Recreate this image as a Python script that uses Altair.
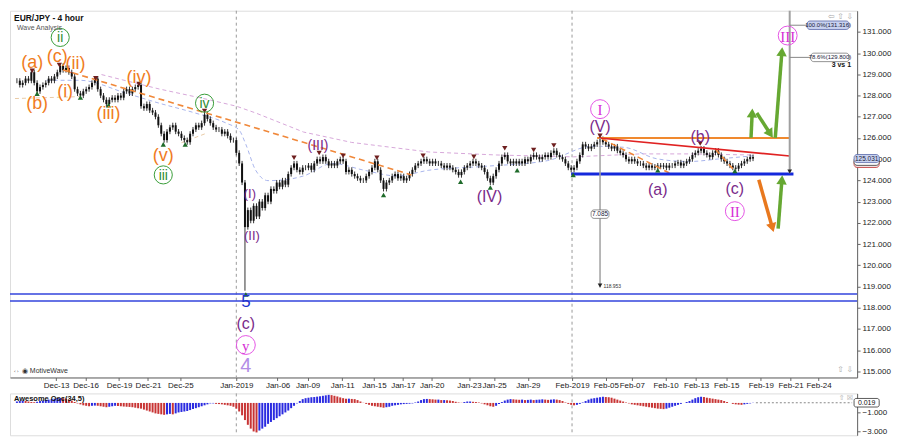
import math
import altair as alt
import pandas as pd

# ---------------- data ----------------
closes = [
    128.7, 128.5, 128.6, 128.8, 128.7, 129.1, 128.6, 128.2, 128.4, 128.5,
    128.6, 128.8, 128.7, 128.9, 129.1, 129.4, 129.2, 129.3, 129.1, 128.9,
    128.3, 128.1, 128.0, 128.2, 128.3, 128.4, 128.6, 128.8, 128.3, 128.0,
    127.8, 127.6, 127.8, 127.9, 127.8, 128.0, 127.9, 128.2, 128.3, 128.1,
    128.3, 128.4, 128.5, 127.5, 127.4, 127.6, 127.3, 127.2, 127.0, 126.6,
    126.2, 125.9, 126.3, 126.5, 126.6, 126.3, 126.2, 126.0, 125.9, 125.8,
    126.2, 126.4, 126.6, 126.5, 126.7, 127.1, 126.9, 126.7, 126.5, 126.4,
    126.4, 126.2, 126.3, 126.1, 125.9, 125.9, 125.3, 124.8, 123.9, 121.8,
    122.6, 122.1, 122.8, 122.3, 123.0, 122.7, 123.3, 123.0, 123.6, 123.5,
    123.9, 123.7, 124.0, 123.8, 124.3, 124.6, 124.8, 124.5, 124.4, 124.6,
    124.6, 124.7, 124.5, 124.8, 125.0, 124.9, 125.1, 124.9, 124.7, 124.8,
    124.7, 124.9, 125.0, 124.9, 124.4, 124.5, 124.3, 124.2, 124.1, 124.0,
    124.0, 124.2, 124.4, 124.6, 124.9, 124.5, 124.0, 123.6, 123.9, 124.0,
    124.2, 124.3, 124.1, 124.2, 124.0, 124.1, 124.3, 124.5, 124.7, 124.8,
    124.9, 125.0, 124.9, 124.8, 124.9, 124.8, 124.8, 124.7, 124.6, 124.7,
    124.6, 124.5, 124.4, 124.25, 124.4, 124.6, 124.7, 124.8, 124.9, 124.8,
    124.7, 124.6, 124.4, 124.1, 123.9, 124.2, 124.5, 124.8, 125.1, 125.2,
    124.9, 124.8, 124.9, 124.8, 124.9, 124.8, 125.0, 124.9, 125.1, 125.2,
    125.1, 125.0, 125.1, 125.2, 125.1, 125.3, 125.4, 125.2, 125.1, 125.0,
    124.8, 124.6, 124.5, 124.6, 124.9, 125.2, 125.7, 125.6, 125.5, 125.6,
    125.7, 125.8, 125.95, 125.8, 125.7, 125.6, 125.5, 125.6, 125.4, 125.3,
    125.2, 125.0, 124.9, 125.0, 124.9, 124.8, 124.8, 124.7, 124.6, 124.7,
    124.6, 124.65, 124.7, 124.65, 124.7, 124.6, 124.7, 124.7, 124.8, 124.85,
    124.7, 124.8, 124.9, 125.0, 125.2, 125.3, 125.4, 125.5, 125.3, 125.2,
    125.1, 125.3, 125.4, 125.2, 125.0, 124.9, 124.8, 124.7, 124.6, 124.55,
    124.7, 124.8, 124.9, 125.0, 125.1, 125.03,
]
spike_bar = [79]
spike_low = [118.8]

osc_values = [
    0.15, 0.2, 0.25, 0.2, 0.15, 0.1, 0.08, 0.12, 0.2, 0.25,
    0.3, 0.35, 0.4, 0.45, 0.5, 0.52, 0.5, 0.45, 0.35, 0.25,
    0.1, -0.05, -0.15, -0.25, -0.3, -0.35, -0.3, -0.28, -0.3, -0.35,
    -0.4, -0.45, -0.4, -0.35, -0.3, -0.32, -0.35, -0.38, -0.4, -0.42,
    -0.45, -0.5, -0.55, -0.6, -0.7, -0.8, -0.9, -1.0, -1.1, -1.15,
    -1.2, -1.25, -1.2, -1.15, -1.2, -1.1, -1.0, -0.95, -0.9, -0.85,
    -0.75, -0.65, -0.55, -0.45, -0.35, -0.25, -0.15, -0.05, -0.05, -0.1,
    -0.12, -0.15, -0.2, -0.25, -0.3, -0.4, -0.6, -0.9, -1.3, -1.8,
    -2.3, -2.7, -3.0, -3.1, -2.9, -2.7, -2.5, -2.2, -2.0, -1.8,
    -1.6, -1.4, -1.2, -1.0, -0.8, -0.55, -0.3, -0.05, 0.2, 0.4,
    0.5, 0.55, 0.6, 0.62, 0.66, 0.7, 0.75, 0.8, 0.85, 0.82,
    0.75, 0.68, 0.58, 0.5, 0.45, 0.45, 0.42, 0.4, 0.3, 0.15,
    0.02, -0.1, -0.2, -0.3, -0.35, -0.4, -0.45, -0.5, -0.45, -0.4,
    -0.3, -0.25, -0.2, -0.15, -0.12, -0.1, -0.08, -0.05, 0.05, 0.15,
    0.3, 0.4, 0.42, 0.4, 0.38, 0.35, 0.35, 0.3, 0.3, 0.28,
    0.25, 0.2, 0.12, 0.05, 0.02, 0.1, 0.15, 0.15, 0.12, 0.1,
    0.05, -0.05, -0.15, -0.25, -0.35, -0.4, -0.3, -0.1, 0.1, 0.25,
    0.35, 0.4, 0.38, 0.35, 0.33, 0.35, 0.3, 0.32, 0.35, 0.3,
    0.33, 0.35, 0.38, 0.35, 0.32, 0.35, 0.38, 0.35, 0.3, 0.2,
    0.05, -0.1, -0.2, -0.25, -0.2, -0.1, 0.05, 0.2, 0.35, 0.45,
    0.5, 0.55, 0.6, 0.65, 0.62, 0.6, 0.55, 0.45, 0.35, 0.25,
    0.15, 0.05, -0.05, -0.15, -0.2, -0.25, -0.3, -0.35, -0.4, -0.45,
    -0.5, -0.55, -0.6, -0.62, -0.65, -0.6, -0.5, -0.4, -0.3, -0.2,
    -0.1, 0.0, 0.1, 0.2, 0.35, 0.5, 0.6, 0.65, 0.62, 0.55,
    0.5, 0.45, 0.4, 0.35, 0.3, 0.2, 0.1, 0.0, -0.1, -0.15,
    -0.18, -0.2, -0.15, -0.1, -0.05, 0.02,
]

date_ticks = [13.6, 23.8, 35.4, 45.4, 56.6, 76.0, 90.3, 100.7, 112.7, 123.7, 133.7, 143.7,
              156.6, 165.3, 177.0, 192.3, 204.0, 213.0, 224.7, 235.3, 245.7, 257.7, 268.0, 277.7]
date_labels = ["Dec-13", "Dec-16", "Dec-19", "Dec-21", "Dec-25", "Jan-2019", "Jan-06", "Jan-09",
               "Jan-11", "Jan-15", "Jan-17", "Jan-20", "Jan-23", "Jan-25", "Jan-29", "Feb-2019",
               "Feb-05", "Feb-07", "Feb-10", "Feb-13", "Feb-15", "Feb-19", "Feb-21", "Feb-24"]
price_ticks = list(range(115, 132))
osc_ticks = [-1, -3]
month_lines = [76.0, 192.3]

# moving averages
ma_slow_x = [29.3, 36.0, 49.3, 66.0, 76.0, 82.7, 99.3, 116.0, 142.7, 166.0, 192.7, 216.0, 232.7, 254.3]
ma_slow_y = [128.99, 128.76, 128.31, 127.82, 127.50, 127.18, 126.28, 125.79, 125.34, 125.20, 125.11, 125.25, 125.25, 125.2]
ma_fast_x = [10.3, 21.7, 38.3, 49.3, 61.7, 72.7, 77.0, 79.3, 82.7, 87.0, 92.7, 99.3, 109.3, 120.3,
             131.7, 142.7, 161.7, 183.7, 199.3, 210.3, 221.7, 232.7, 243.7, 255.0]
ma_fast_y = [128.72, 128.72, 128.09, 127.64, 127.18, 126.69, 126.37, 125.70, 124.48, 123.99, 124.03,
             124.21, 124.80, 124.48, 124.21, 124.48, 124.66, 124.93, 125.61, 125.56, 125.02, 124.89, 125.02, 125.16]

# trend lines (x1, y1, x2, y2)
orange_dash = [(16.0, 129.21, 136.7, 124.26), (202.7, 125.96, 226.0, 124.35), (242.0, 125.47, 248.7, 124.44)]
faint_dash = [(-0.67, 127.86, 22.0, 127.95), (57.0, 125.78, 66.0, 126.24)]
solid_lines = [  # x1, y1, x2, y2, color, width
    (201.0, 126.0, 267.7, 126.0, "#F0892E", 2.2),
    (201.7, 126.0, 267.7, 125.15, "#E02222", 1.6),
    (192.0, 124.3, 269.0, 124.3, "#1428DC", 3.0),
    (202.0, 126.0, 202.0, 118.95, "#A0A0A0", 1.5),
    (267.7, 132.0, 267.7, 124.34, "#A0A0A0", 2.0),
    (267.7, 131.316, 273.7, 131.316, "#888888", 1.0),
    (267.7, 129.8, 275.0, 129.8, "#888888", 1.0),
]
support_levels = [118.64, 118.31]

arrows = [  # x1, y1, x2, y2, color
    (254.3, 126.01, 254.7, 127.18, "#66A832"),
    (256.3, 127.18, 261.0, 126.19, "#66A832"),
    (262.7, 126.01, 265.0, 130.07, "#66A832"),
    (257.0, 124.03, 261.7, 121.77, "#E8781E"),
    (263.7, 121.73, 265.0, 124.03, "#66A832"),
]

tri_dn_x = [5.3, 14.7, 27.3, 42.3, 65.0, 96.0, 104.7, 113.0, 124.7, 140.7, 158.3, 169.0, 179.0, 186.0, 202.0, 236.7]
tri_dn_y = [129.17, 129.44, 128.81, 128.54, 127.27, 125.07, 125.29, 125.16, 125.07, 125.16, 125.11, 125.52, 125.43, 125.65, 126.10, 125.74]
tri_up_x = [7.0, 22.0, 31.7, 50.7, 58.3, 79.3, 127.0, 153.7, 164.0, 173.3, 192.7, 222.0, 248.7]
tri_up_y = [128.09, 127.91, 127.55, 125.70, 125.70, 118.62, 123.31, 123.94, 123.67, 124.48, 124.26, 124.48, 124.44]

orange_text = ["(a)", "(b)", "(ii)", "(c)", "(i)", "(iii)", "(iv)", "(v)"]
orange_x = [5.3, 7.0, 20.3, 14.0, 16.7, 31.7, 42.3, 50.7]
orange_y = [129.53, 127.59, 129.50, 129.84, 128.18, 127.14, 128.85, 125.16]

green_circ_text = ["ii", "iii", "iv"]
green_circ_x = [15.0, 50.7, 65.0]
green_circ_y = [130.74, 124.26, 127.64]

purple_text = ["(I)", "(II)", "(c)", "(III)", "(IV)", "(V)", "(a)", "(b)", "(c)"]
purple_x = [80.7, 81.4, 79.3, 104.3, 163.7, 202.0, 222.0, 236.7, 248.7]
purple_y = [123.36, 121.37, 117.23, 125.61, 123.22, 126.51, 123.54, 126.06, 123.58]
purple_size = [13, 13, 16, 14, 16, 16, 16, 16, 16]

pink_circ_text = ["y", "I", "II", "III"]
pink_circ_x = [79.3, 202.0, 248.7, 267.0]
pink_circ_y = [116.24, 127.36, 122.55, 130.83]

# boxes: text, x1, x2, y, half-height, fill, stroke, fontsize
price_boxes = [
    ("", 290.0, 298.7, 124.80, 0.19, "#F6E4E4", "#C03030", 6.5),
    ("", 290.0, 298.7, 124.90, 0.19, "#FFFFFF", "#333333", 6.5),
    ("125.031", 290.0, 298.7, 125.031, 0.19, "#C8D2F0", "#5A6AAA", 6.5),
    ("100.0%(131.316)", 273.7, 288.3, 131.316, 0.2, "#C8D2F0", "#5A6AAA", 6.0),
    ("78.6%(129.800)", 275.0, 288.3, 129.8, 0.2, "#FFFFFF", "#777777", 6.0),
    ("7.085", 198.9, 205.1, 122.41, 0.2, "#FFFFFF", "#777777", 6.5),
]

# ---------------- geometry / scales ----------------
XMIN, XMAX = -0.67, 289.33
YMIN, YMAX = 114.71, 132.0
OMIN, OMAX = -3.4, 1.0
W, H, HO = 850, 368, 42
FONT = "Liberation Sans"

xs = alt.Scale(domain=[XMIN, XMAX], nice=False, zero=False)
ys = alt.Scale(domain=[YMIN, YMAX], nice=False, zero=False)
os_ = alt.Scale(domain=[OMIN, OMAX], nice=False, zero=False)

labels_js = "[" + ",".join("'%s'" % s for s in date_labels) + "]"
ticks_js = "[" + ",".join(repr(v) for v in date_ticks) + "]"
label_expr = f"{labels_js}[indexof({ticks_js}, datum.value)]"

x_axis = alt.Axis(values=date_ticks, labelExpr=label_expr, title=None, grid=False, tickSize=3,
                  labelFontSize=8, labelFont=FONT, labelColor="#222", domainColor="#666",
                  tickColor="#666", labelPadding=1, labelOverlap=False, labelFlush=False)
y_axis = alt.Axis(values=price_ticks, format=".3f", orient="right", title=None, grid=False,
                  tickSize=3, labelFontSize=8, labelFont=FONT, labelColor="#222",
                  domainColor="#666", tickColor="#666", labelPadding=2)
o_axis = alt.Axis(values=osc_ticks, format=".3f", orient="right", title=None, grid=False,
                  tickSize=3, labelFontSize=8, labelFont=FONT, labelColor="#222",
                  domainColor="#666", tickColor="#666", labelPadding=2)


def X(f="x"):
    return alt.X(f"{f}:Q", scale=xs, axis=x_axis)


def Y(f="y"):
    return alt.Y(f"{f}:Q", scale=ys, axis=y_axis)


def OX(f="x"):
    return alt.X(f"{f}:Q", scale=xs, axis=None)


def OY(f="y"):
    return alt.Y(f"{f}:Q", scale=os_, axis=o_axis)


layers = []

# vertical month separators
vl = pd.DataFrame({"x": month_lines})
layers.append(alt.Chart(vl).mark_rule(color="#9A9A9A", strokeDash=[3, 3], strokeWidth=1).encode(x=X()))

# support levels
sl = pd.DataFrame({"y": support_levels})
layers.append(alt.Chart(sl).mark_rule(color="#3344DD", strokeWidth=1.5).encode(y=Y()))

# moving averages
layers.append(alt.Chart(pd.DataFrame({"x": ma_slow_x, "y": ma_slow_y})).mark_line(
    color="#D7A8DA", strokeDash=[4, 3], strokeWidth=1).encode(x=X(), y=Y()))
layers.append(alt.Chart(pd.DataFrame({"x": ma_fast_x, "y": ma_fast_y})).mark_line(
    color="#A9B5EC", strokeDash=[4, 3], strokeWidth=1, interpolate="monotone").encode(x=X(), y=Y()))

# faint wave lines
fd = pd.DataFrame(faint_dash, columns=["x", "y", "x2", "y2"])
layers.append(alt.Chart(fd).mark_rule(color="#E9CBA6", strokeDash=[4, 3], strokeWidth=1).encode(
    x=X(), y=Y(), x2="x2:Q", y2="y2:Q"))

# candles
opens = [closes[0]] + closes[:-1]
WICK = 0.12
crow = []
for i, (o, c) in enumerate(zip(opens, closes)):
    hi = max(o, c) + WICK
    lo = min(o, c) - WICK
    if i in spike_bar:
        lo = spike_low[spike_bar.index(i)]
    crow.append({"x": i, "o": o, "c": c, "hi": hi, "lo": lo})
cdf = pd.DataFrame(crow)
layers.append(alt.Chart(cdf).mark_rule(color="#333", strokeWidth=1).encode(x=X(), y=Y("lo"), y2="hi:Q"))
layers.append(alt.Chart(cdf).mark_bar(size=2, color="#111").encode(x=X(), y=Y("o"), y2="c:Q"))

# orange dashed trend lines
od = pd.DataFrame(orange_dash, columns=["x", "y", "x2", "y2"])
layers.append(alt.Chart(od).mark_rule(color="#F0883A", strokeDash=[6, 4], strokeWidth=1.6).encode(
    x=X(), y=Y(), x2="x2:Q", y2="y2:Q"))

# solid lines
sd = pd.DataFrame(solid_lines, columns=["x", "y", "x2", "y2", "col", "w"])
for _, r in sd.iterrows():
    layers.append(alt.Chart(pd.DataFrame([r])).mark_rule(color=r["col"], strokeWidth=float(r["w"])).encode(
        x=X(), y=Y(), x2="x2:Q", y2="y2:Q"))

# end markers of measurement lines
layers.append(alt.Chart(pd.DataFrame({"x": [202.0, 267.7], "y": [119.05, 124.42]})).mark_point(
    shape="triangle-down", filled=True, size=22, color="#222", opacity=1).encode(x=X(), y=Y()))
layers.append(alt.Chart(pd.DataFrame({"x": [203.2], "y": [119.03], "t": ["118.953"]})).mark_text(
    font=FONT, fontSize=5, color="#333", align="left", baseline="middle").encode(x=X(), y=Y(), text="t:N"))

# arrows
ppx = W / (XMAX - XMIN)
ppy = H / (YMAX - YMIN)
arows = []
for (x1, y1, x2, y2, col) in arrows:
    ang = math.degrees(math.atan2((x2 - x1) * ppx, (y2 - y1) * ppy)) % 360
    arows.append({"x": x1, "y": y1, "x2": x2, "y2": y2, "col": col, "ang": ang})
adf = pd.DataFrame(arows)
layers.append(alt.Chart(adf).mark_rule(strokeWidth=3.5).encode(
    x=X(), y=Y(), x2="x2:Q", y2="y2:Q", color=alt.Color("col:N", scale=None)))
layers.append(alt.Chart(adf).mark_point(shape="triangle-up", filled=True, size=110, opacity=1).encode(
    x=X("x2"), y=Y("y2"), angle=alt.Angle("ang:Q", scale=None), color=alt.Color("col:N", scale=None)))

# pivot triangles
layers.append(alt.Chart(pd.DataFrame({"x": tri_dn_x, "y": tri_dn_y})).mark_point(
    shape="triangle-down", filled=True, size=28, color="#6E1F1F", opacity=1).encode(x=X(), y=Y()))
layers.append(alt.Chart(pd.DataFrame({"x": tri_up_x, "y": tri_up_y})).mark_point(
    shape="triangle-up", filled=True, size=28, color="#1F6B2A", opacity=1).encode(x=X(), y=Y()))

# wave labels
layers.append(alt.Chart(pd.DataFrame({"x": orange_x, "y": orange_y, "t": orange_text})).mark_text(
    font=FONT, fontSize=18, color="#F07C1E", align="center", baseline="middle").encode(x=X(), y=Y(), text="t:N"))
pdf = pd.DataFrame({"x": purple_x, "y": purple_y, "t": purple_text, "s": purple_size})
layers.append(alt.Chart(pdf).mark_text(font=FONT, color="#7A2A8A", align="center", baseline="middle").encode(
    x=X(), y=Y(), text="t:N", size=alt.Size("s:Q", scale=None)))
layers.append(alt.Chart(pd.DataFrame({"x": [79.3], "y": [118.27], "t": ["5"]})).mark_text(
    font=FONT, fontSize=17, color="#2233CC", align="center", baseline="middle").encode(x=X(), y=Y(), text="t:N"))
layers.append(alt.Chart(pd.DataFrame({"x": [79.3], "y": [115.25], "t": ["4"]})).mark_text(
    font=FONT, fontSize=20, color="#B38DE6", align="center", baseline="middle").encode(x=X(), y=Y(), text="t:N"))

gdf = pd.DataFrame({"x": green_circ_x, "y": green_circ_y, "t": green_circ_text})
layers.append(alt.Chart(gdf).mark_point(shape="circle", filled=False, size=330, strokeWidth=1, color="#3A9E3A",
                                        opacity=1).encode(x=X(), y=Y()))
layers.append(alt.Chart(gdf).mark_text(font=FONT, fontSize=14, color="#2E8B2E", align="center",
                                       baseline="middle", dy=1).encode(x=X(), y=Y(), text="t:N"))
kdf = pd.DataFrame({"x": pink_circ_x, "y": pink_circ_y, "t": pink_circ_text})
layers.append(alt.Chart(kdf).mark_point(shape="circle", filled=False, size=360, strokeWidth=1, color="#E455E4",
                                        opacity=1).encode(x=X(), y=Y()))
layers.append(alt.Chart(kdf).mark_text(font="Liberation Serif", fontSize=15, color="#D62ED6", align="center",
                                       baseline="middle", dy=1).encode(x=X(), y=Y(), text="t:N"))

# value boxes
bdf = pd.DataFrame(price_boxes, columns=["t", "x", "x2", "yc", "hh", "fill", "stroke", "fs"])
bdf["y"] = bdf["yc"] - bdf["hh"]
bdf["y2"] = bdf["yc"] + bdf["hh"]
bdf["xc"] = (bdf["x"] + bdf["x2"]) / 2
layers.append(alt.Chart(bdf).mark_rect(strokeWidth=0.8, cornerRadius=3).encode(
    x=X(), x2="x2:Q", y=Y(), y2="y2:Q", fill=alt.Fill("fill:N", scale=None),
    stroke=alt.Stroke("stroke:N", scale=None)))
layers.append(alt.Chart(bdf).mark_text(font=FONT, color="#1A1A3A", align="center", baseline="middle").encode(
    x=X("xc"), y=Y("yc"), text="t:N", size=alt.Size("fs:Q", scale=None)))
layers.append(alt.Chart(pd.DataFrame({"x": [285.6], "y": [129.44], "t": ["3 vs 1"]})).mark_text(
    font=FONT, fontSize=7, fontWeight="bold", color="#111", align="center", baseline="middle").encode(
    x=X(), y=Y(), text="t:N"))

# chrome texts
layers.append(alt.Chart(pd.DataFrame({"t": ["EUR/JPY - 4 hour"]})).mark_text(
    font=FONT, fontSize=8.5, fontWeight="bold", color="#111", align="left", baseline="top").encode(
    x=alt.value(4), y=alt.value(3), text="t:N"))
layers.append(alt.Chart(pd.DataFrame({"t": ["Wave Analysis"]})).mark_text(
    font=FONT, fontSize=7, color="#555", align="left", baseline="top").encode(
    x=alt.value(7), y=alt.value(13), text="t:N"))
layers.append(alt.Chart(pd.DataFrame({"t": ["\u21d4 \u25c9 MotiveWave"]})).mark_text(
    font=FONT, fontSize=7, color="#333", align="left", baseline="bottom").encode(
    x=alt.value(3), y=alt.value(H - 3), text="t:N"))
layers.append(alt.Chart(pd.DataFrame({"t": ["\u21e6 \u21e7 \u21e9"]})).mark_text(
    font="DejaVu Sans", fontSize=8, color="#AAA", align="right", baseline="top").encode(
    x=alt.value(W - 4), y=alt.value(2), text="t:N"))
layers.append(alt.Chart(pd.DataFrame({"t": ["\u21e7 \u21e9"]})).mark_text(
    font="DejaVu Sans", fontSize=8, color="#AAA", align="right", baseline="bottom").encode(
    x=alt.value(W - 4), y=alt.value(H - 3), text="t:N"))

main = alt.layer(*layers).properties(width=W, height=H)

# ---------------- oscillator ----------------
orow = []
for i, v in enumerate(osc_values):
    prev = osc_values[i - 1] if i > 0 else v
    orow.append({"x": i, "y": v, "col": "#2B2BE0" if v >= prev else "#C83434"})
odf = pd.DataFrame(orow)

olayers = [
    alt.Chart(vl).mark_rule(color="#9A9A9A", strokeDash=[3, 3], strokeWidth=1).encode(x=OX()),
    alt.Chart(pd.DataFrame({"x": [len(osc_values)], "x2": [XMAX], "y": [0.019]})).mark_rule(
        color="#888", strokeDash=[2, 2], strokeWidth=1).encode(x=OX(), x2="x2:Q", y=OY()),
    alt.Chart(odf).mark_bar(size=2).encode(x=OX(), y=OY(), y2=alt.datum(0),
                                           color=alt.Color("col:N", scale=None)),
    alt.Chart(pd.DataFrame({"x": [290.0], "x2": [298.7], "y": [-0.43], "y2": [0.47]})).mark_rect(
        fill="#FFFFFF", stroke="#333", strokeWidth=0.8, cornerRadius=2).encode(
        x=OX(), x2="x2:Q", y=OY(), y2="y2:Q"),
    alt.Chart(pd.DataFrame({"x": [294.35], "y": [0.019], "t": ["0.019"]})).mark_text(
        font=FONT, fontSize=7, color="#111", align="center", baseline="middle").encode(
        x=OX(), y=OY(), text="t:N"),
    alt.Chart(pd.DataFrame({"t": ["Awesome Osc(34,5)"]})).mark_text(
        font=FONT, fontSize=7.5, fontWeight="bold", color="#111", align="left", baseline="top").encode(
        x=alt.value(4), y=alt.value(2), text="t:N"),
    alt.Chart(pd.DataFrame({"t": ["\u21e7 \u2612"]})).mark_text(
        font="DejaVu Sans", fontSize=7, color="#AAA", align="right", baseline="top").encode(
        x=alt.value(W - 4), y=alt.value(1), text="t:N"),
]
oscc = alt.layer(*olayers).properties(width=W, height=HO)

chart = alt.vconcat(main, oscc, spacing=2).properties(
    padding={"left": 0, "top": 0, "right": 0, "bottom": 0}
).configure_view(stroke="#555", strokeWidth=1).configure(background="white")

chart.save("out.html", embed_options={"renderer": "svg", "actions": False})
